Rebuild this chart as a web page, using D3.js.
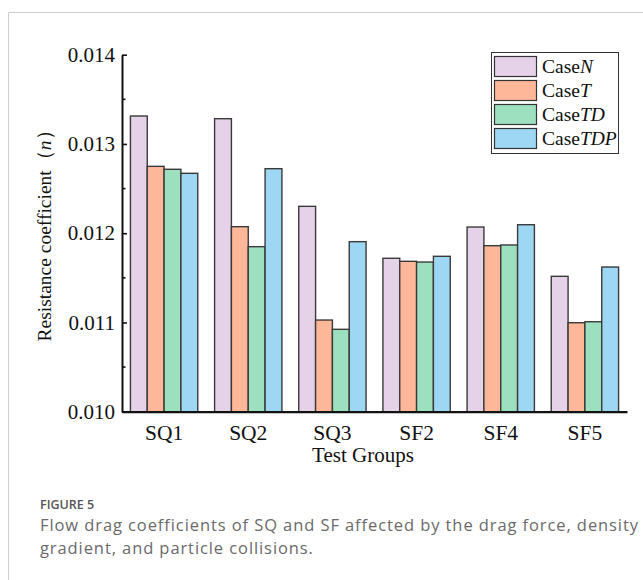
<!DOCTYPE html>
<html>
<head>
<meta charset="utf-8">
<script src="https://cdn.jsdelivr.net/npm/d3@7/dist/d3.min.js"></script>
<style>
  html, body { margin: 0; padding: 0; background: #fff; }
  svg { display: block; }
</style>
</head>
<body>
<script>
// Test groups and resistance coefficients (n) for each simulation case
const groups = ["SQ1", "SQ2", "SQ3", "SF2", "SF4", "SF5"];
const caseKeys = ["N", "T", "TD", "TDP"];
const caseN   = [0.013313, 0.013283, 0.012301, 0.011719, 0.012069, 0.011517];
const caseT   = [0.012749, 0.012073, 0.011027, 0.011685, 0.011860, 0.010997];
const caseTD  = [0.012716, 0.011849, 0.010923, 0.011677, 0.011868, 0.011008];
const caseTDP = [0.012671, 0.012723, 0.011905, 0.011741, 0.012095, 0.011621];
const yTicks = [0.010, 0.011, 0.012, 0.013, 0.014];
const caseColors = ["#e5d2e8", "#feb899", "#9de0bf", "#9dd7f3"];

const seriesValues = [caseN, caseT, caseTD, caseTDP];

const W = 643, H = 580;
const svg = d3.select("body").append("svg").attr("width", W).attr("height", H);

// card frame
svg.append("path")
  .attr("d", `M${W + 2},12.5 H8.5 V${H + 2}`)
  .attr("fill", "none").attr("stroke", "#cfcfcf").attr("stroke-width", 1);

const serif = "'Liberation Serif', 'Times New Roman', serif";
const plotL = 122, plotR = 627, plotT = 54.7, plotB = 411.7;

const x = d3.scaleBand().domain(groups).range([plotL, plotR])
  .paddingInner(0.2).paddingOuter(0.1);
const xi = d3.scaleBand().domain(caseKeys).range([0, x.bandwidth()]);
const y = d3.scaleLinear().domain([0.010, 0.014]).range([plotB, plotT]);

// bars
const g = svg.append("g");
groups.forEach((grp, gi) => {
  caseKeys.forEach((k, ki) => {
    const v = seriesValues[ki][gi];
    g.append("rect")
      .attr("x", x(grp) + xi(k))
      .attr("y", y(v))
      .attr("width", xi.bandwidth())
      .attr("height", y(0.010) - y(v))
      .attr("fill", caseColors[ki])
      .attr("stroke", "#3a3a3a")
      .attr("stroke-width", 1.4);
  });
});

// y axis: major ticks inward, minor ticks between
const yAxis = d3.axisLeft(y).tickValues(yTicks).tickFormat(d3.format(".3f"))
  .tickSizeInner(-5).tickSizeOuter(0).tickPadding(7);
const ya = svg.append("g").attr("transform", `translate(${plotL},0)`).call(yAxis);
ya.select(".domain").attr("stroke", "#111").attr("stroke-width", 2);
ya.selectAll(".tick line").attr("stroke", "#111").attr("stroke-width", 1.6);
ya.selectAll(".tick text").attr("font-family", serif).attr("font-size", 21).attr("fill", "#111");
const minor = d3.range(0, 4).map(i => 0.0105 + i * 0.001);
svg.append("g").selectAll("line").data(minor).join("line")
  .attr("x1", plotL).attr("x2", plotL + 3.5)
  .attr("y1", d => y(d)).attr("y2", d => y(d))
  .attr("stroke", "#111").attr("stroke-width", 1.6);

// x axis
const xAxis = d3.axisBottom(x).tickSize(0).tickPadding(13);
const xa = svg.append("g").attr("transform", `translate(0,${plotB})`).call(xAxis);
xa.select(".domain").attr("stroke", "#111").attr("stroke-width", 2.2);
xa.selectAll(".tick text").attr("font-family", serif).attr("font-size", 21.5).attr("fill", "#111");

// axis titles
svg.append("text").attr("x", 363).attr("y", 462)
  .attr("text-anchor", "middle").attr("font-family", serif).attr("font-size", 21).attr("fill", "#111")
  .text("Test Groups");
const yt = svg.append("text")
  .attr("transform", `translate(51,231) rotate(-90)`)
  .attr("text-anchor", "middle").attr("font-family", serif).attr("font-size", 19.5).attr("fill", "#111");
yt.append("tspan").text("Resistance coefficient（");
yt.append("tspan").attr("font-style", "italic").text("n");
yt.append("tspan").text("）");

// legend
const lg = svg.append("g");
lg.append("rect").attr("x", 491.5).attr("y", 52.5).attr("width", 127).attr("height", 101)
  .attr("fill", "#fff").attr("stroke", "#333").attr("stroke-width", 1);
caseKeys.forEach((k, i) => {
  const yy = 56.5 + i * 24;
  lg.append("rect").attr("x", 494.5).attr("y", yy).attr("width", 42).attr("height", 20)
    .attr("fill", caseColors[i]).attr("stroke", "#333").attr("stroke-width", 1.2);
  const t = lg.append("text").attr("x", 542).attr("y", yy + 16)
    .attr("font-family", serif).attr("font-size", 19.5).attr("fill", "#111");
  t.append("tspan").text("Case");
  t.append("tspan").attr("font-style", "italic").text(k);
});

// figure caption
const sans = "'Open Sans', 'Noto Sans', sans-serif";
const capX = 40;
svg.append("text").attr("x", capX).attr("y", 509).attr("font-family", sans)
  .attr("font-size", 12.5).attr("font-weight", 600).attr("fill", "#555").text("FIGURE 5");
const capLines = [
  "Flow drag coefficients of SQ and SF affected by the drag force, density",
  "gradient, and particle collisions."
];
const capTexts = capLines.map((s, i) =>
  svg.append("text").attr("x", capX).attr("y", 531 + i * 22.5).attr("font-family", sans)
    .attr("font-size", 16.5).attr("fill", "#6a6a6a").text(s));
// widen tracking so the first line runs to the right edge of the card
const natural = capTexts[0].node().getComputedTextLength();
const ls = Math.max(0, (638 - capX - natural) / (capLines[0].length - 1));
capTexts.forEach(t => t.attr("letter-spacing", ls));
</script>
</body>
</html>
